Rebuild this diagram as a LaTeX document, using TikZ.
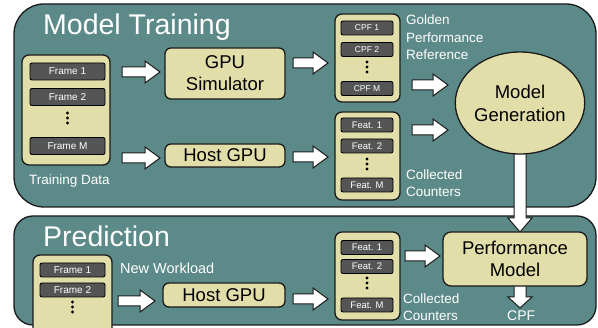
\documentclass[tikz,border=0pt]{standalone}
\usepackage{fontspec}
\setmainfont{Liberation Sans}
\usetikzlibrary{shapes.geometric}
\definecolor{panelc}{HTML}{5C8A88}
\definecolor{khaki}{HTML}{E1DEAA}
\definecolor{itemc}{HTML}{555555}
\definecolor{edgec}{HTML}{1A1A1A}
\newcommand\harrow[3]{\draw[blk] (#1,#3-5) -- (#2-15,#3-5) -- (#2-15,#3-11) -- (#2,#3) -- (#2-15,#3+11) -- (#2-15,#3+5) -- (#1,#3+5) -- cycle;}
\newcommand\varrow[4]{\draw[blk] (#1-6,#2) -- (#1-6,#3-#4) -- (#1-12,#3-#4) -- (#1,#3) -- (#1+12,#3-#4) -- (#1+6,#3-#4) -- (#1+6,#2) -- cycle;}
\newcommand\threedots[2]{\fill[black] (#1,#2) circle (1.6) (#1,#2+5) circle (1.6) (#1,#2+10) circle (1.6);}
\begin{document}
\begin{tikzpicture}[x=1pt,y=-1pt,
  panel/.style={fill=panelc, draw=edgec, line width=1.3pt},
  holder/.style={fill=khaki, draw=edgec, line width=1.3pt, rounded corners=7pt, inner sep=0pt},
  item/.style={fill=itemc, draw=black, line width=0.9pt, rounded corners=2pt, text=white, inner sep=0pt},
  bigbox/.style={fill=khaki, draw=edgec, line width=1.3pt, rounded corners=6pt, inner sep=0pt, align=center, font=\fontsize{18.5}{22}\selectfont},
  blk/.style={fill=white, draw=edgec, line width=1pt},
  lbl/.style={text=white, anchor=base west, inner sep=0pt, font=\fontsize{13.5}{17.5}\selectfont},
  title/.style={text=white, anchor=base west, inner sep=0pt, font=\fontsize{28.5}{30}\selectfont}]
\clip (0,0) rectangle (598,328);
\fill[white] (0,0) rectangle (598,328);
% panels
\draw[panel, rounded corners=30pt] (14,4) rectangle (596,207);
\draw[panel, rounded corners=19pt] (14,216) rectangle (596,325);
\node[title] (ttrain) at (43,35) {Model Training};
\node[title] (tpred) at (43,247) {Prediction};
% training data
\node[holder, minimum width=88, minimum height=110] (td) at (66,110) {};
\node[item, minimum width=75, minimum height=17, font=\fontsize{10}{12}\selectfont] (f1) at (67.5,71.5) {Frame 1};
\node[item, minimum width=75, minimum height=17, font=\fontsize{10}{12}\selectfont] (f2) at (67.5,97) {Frame 2};
\node[item, minimum width=75, minimum height=17, font=\fontsize{10}{12}\selectfont] (fm) at (67.5,146) {Frame M};
\threedots{67.5}{113}
\node[lbl] (tdl) at (29,185) {Training Data};
% GPU sim and host gpu
\node[bigbox, minimum width=120, minimum height=51] (gsim) at (225,73.5) {GPU\\Simulator};
\node[bigbox, minimum width=120, minimum height=23] (hgpu) at (225,155.5) {Host GPU};
% CPF box
\node[holder, minimum width=65, minimum height=88] (cpfb) at (367.5,58) {};
\node[item, minimum width=52, minimum height=14, font=\fontsize{8.5}{10}\selectfont] (c1) at (367,28) {CPF 1};
\node[item, minimum width=52, minimum height=14, font=\fontsize{8.5}{10}\selectfont] (c2) at (367,49.5) {CPF 2};
\node[item, minimum width=52, minimum height=14, font=\fontsize{8.5}{10}\selectfont] (cm) at (367,88.5) {CPF M};
\threedots{367}{62}
\node[lbl, align=left] (gold) at (406,60) {Golden\\Performance\\Reference};
% Feat box top
\node[holder, minimum width=65, minimum height=88] (ftb) at (367.5,156) {};
\node[item, minimum width=52, minimum height=14, font=\fontsize{9.5}{11}\selectfont] (ft1) at (367,125) {Feat. 1};
\node[item, minimum width=52, minimum height=14, font=\fontsize{9.5}{11}\selectfont] (ft2) at (367,146) {Feat. 2};
\node[item, minimum width=52, minimum height=14, font=\fontsize{9.5}{11}\selectfont] (ftm) at (367,185) {Feat. M};
\threedots{367}{159}
\node[lbl, align=left] (cc1) at (406,197) {Collected\\Counters};
% arrows top
\harrow{122}{160}{72}
\harrow{122}{160}{158}
\harrow{293}{328}{63}
\harrow{293}{328}{157}
\harrow{412}{448}{85}
\harrow{412}{448}{130}
% vertical arrow
\varrow{520}{150}{232}{14}
\node[ellipse, fill=khaki, draw=edgec, line width=1.3pt, minimum width=115, minimum height=102, inner sep=0pt, align=center, font=\fontsize{18.5}{23}\selectfont] (mg) at (520,103) {Model\\Generation};
% prediction
\node[holder, minimum width=79, minimum height=90] (pfb) at (72.5,300) {};
\node[item, minimum width=65, minimum height=14, font=\fontsize{10}{12}\selectfont] (pf1) at (72.5,270) {Frame 1};
\node[item, minimum width=65, minimum height=14, font=\fontsize{10}{12}\selectfont] (pf2) at (72.5,290) {Frame 2};
\threedots{72.5}{302}
\node[lbl, font=\fontsize{14.5}{17}\selectfont] (nw) at (120,274) {New Workload};
\node[bigbox, minimum width=122, minimum height=24] (hgpu2) at (224,295) {Host GPU};
\node[holder, minimum width=65, minimum height=88] (fbb) at (367.5,276) {};
\node[item, minimum width=52, minimum height=14, font=\fontsize{9.5}{11}\selectfont] (fb1) at (367,247.5) {Feat. 1};
\node[item, minimum width=52, minimum height=14, font=\fontsize{9.5}{11}\selectfont] (fb2) at (367,266.5) {Feat. 2};
\node[item, minimum width=52, minimum height=14, font=\fontsize{9.5}{11}\selectfont] (fbm) at (367,305) {Feat. M};
\threedots{367}{278}
\node[lbl, align=left] (cc2) at (403,321) {Collected\\Counters};
\harrow{118}{155}{301}
\harrow{293}{328}{299}
\harrow{405}{440}{256}
\varrow{520}{280}{308}{11}
\node[bigbox, minimum width=144, minimum height=54, rounded corners=8pt] (pm) at (515,259) {Performance\\Model};
\node[lbl, font=\fontsize{14}{17}\selectfont] (cpfo) at (507,321) {CPF};
\end{tikzpicture}
\end{document}
